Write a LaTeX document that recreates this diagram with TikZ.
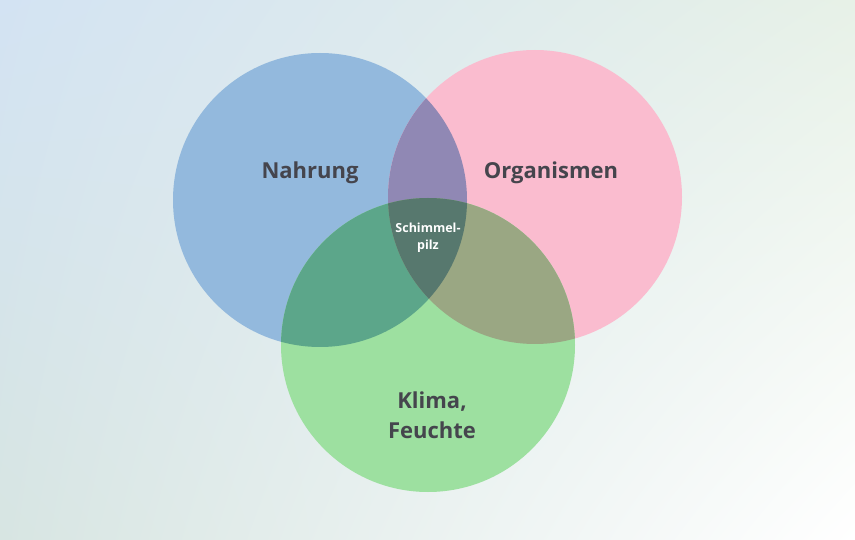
\documentclass[tikz,border=0pt]{standalone}
\usepackage{fontspec}
\setmainfont{Open Sans}
\usetikzlibrary{shadings}
\definecolor{bgTL}{HTML}{D3E3F3}
\definecolor{bgTR}{HTML}{E7F1E7}
\definecolor{bgBL}{HTML}{D7E5E2}
\definecolor{bgBR}{HTML}{FFFFFF}
\definecolor{cblue}{HTML}{93B9DD}
\definecolor{cpink}{HTML}{FABCCF}
\definecolor{cgreen}{HTML}{9DE0A0}
\definecolor{cbp}{HTML}{9088B4}
\definecolor{cbg}{HTML}{5CA68A}
\definecolor{cpg}{HTML}{9AA783}
\definecolor{call}{HTML}{57786E}
\definecolor{txt}{HTML}{45454D}
\tikzset{
  biglabel/.style={font=\bfseries\fontsize{22}{30}\selectfont, text=txt, align=center},
  smalllabel/.style={font=\bfseries\fontsize{12.5}{16.5}\selectfont, text=white, align=center}
}
\begin{document}
\begin{tikzpicture}[x=1pt,y=-1pt]
\useasboundingbox (0,0) rectangle (855,540);
\shade[upper left=bgTL, upper right=bgTR, lower left=bgBL, lower right=bgBR] (0,0) rectangle (855,540);
\def\blueC{(320,200) circle (147)}
\def\pinkC{(535,197) circle (147)}
\def\greenC{(428,345) circle (147)}
\fill[cblue] \blueC;
\fill[cpink] \pinkC;
\fill[cgreen] \greenC;
\begin{scope}
  \clip \blueC; \fill[cbp] \pinkC;
\end{scope}
\begin{scope}
  \clip \blueC; \fill[cbg] \greenC;
\end{scope}
\begin{scope}
  \clip \pinkC; \fill[cpg] \greenC;
\end{scope}
\begin{scope}
  \clip \blueC; \clip \pinkC; \fill[call] \greenC;
\end{scope}
\node[biglabel] (nahrung) at (310,173) {Nahrung};
\node[biglabel] (organismen) at (551,173) {Organismen};
\node[biglabel] (klima) at (432,415) {Klima,\\Feuchte};
\node[smalllabel] (schimmel) at (428,238) {Schimmel-\\pilz};
\end{tikzpicture}
\end{document}
